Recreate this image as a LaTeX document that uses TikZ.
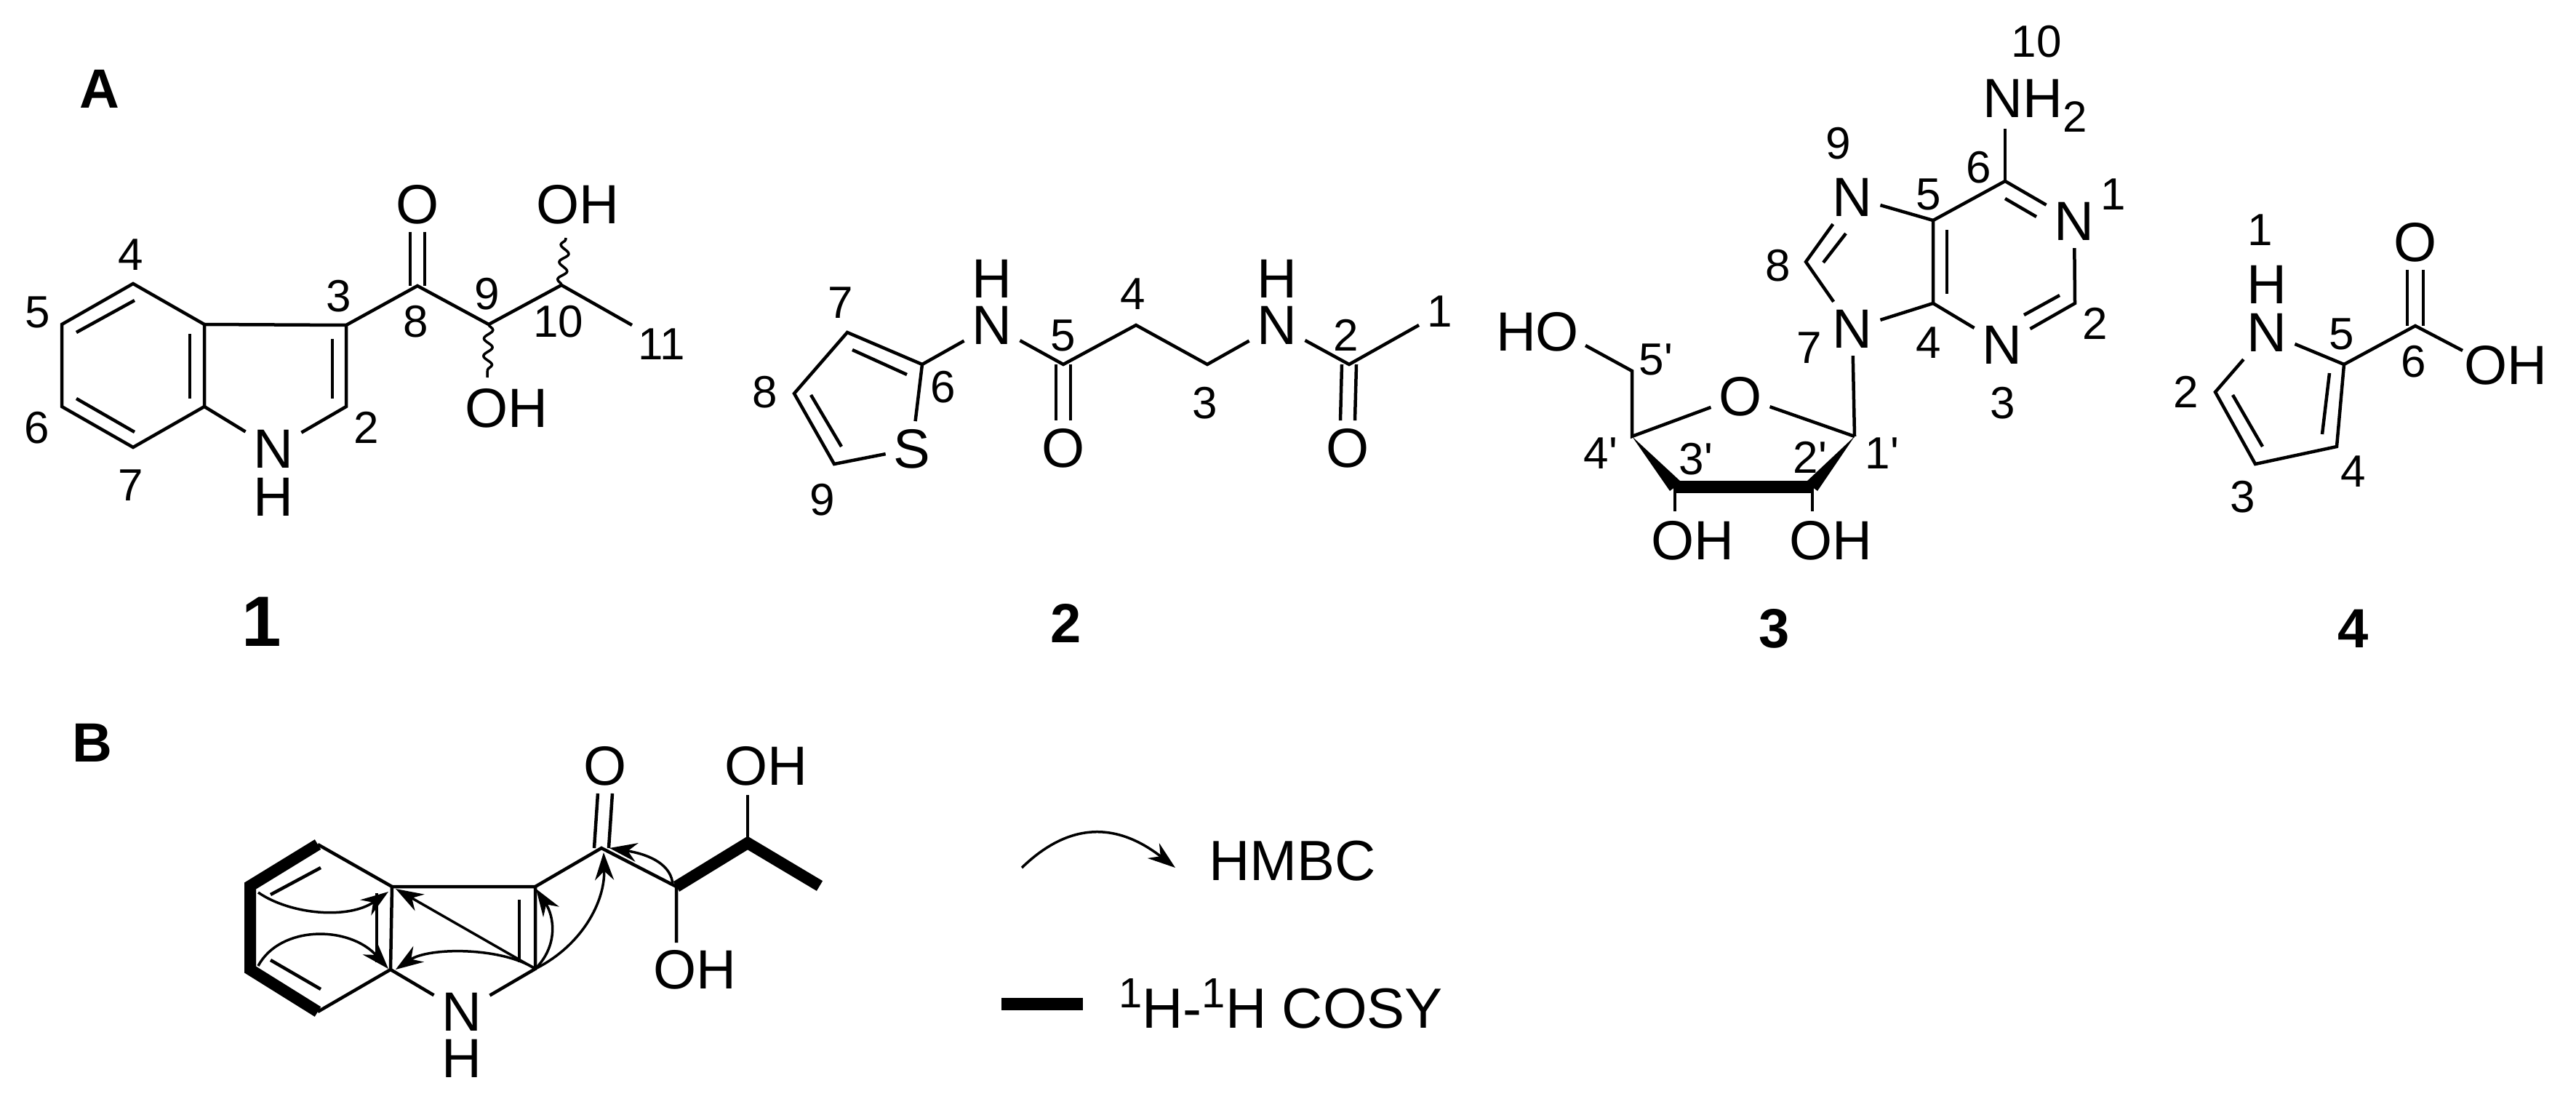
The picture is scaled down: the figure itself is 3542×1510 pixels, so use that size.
\documentclass[tikz,border=0pt]{standalone}
\usepackage{fontspec}
\usetikzlibrary{calc,arrows.meta,decorations.pathmorphing}
\newfontfamily\chemf{Liberation Sans}
\newcommand\atomsize{\chemf\fontsize{76}{76}\selectfont}
\newcommand\numsize{\chemf\fontsize{62}{62}\selectfont}
\newcommand\ibond[5]{\coordinate (#1a) at #2; \coordinate (#1b) at #3; \draw[#4] (#1a) -- (#1b);}
\tikzset{
  atom/.style={inner sep=0pt,outer sep=11pt,font=\atomsize,text=black},
  txt/.style={inner sep=0pt,font=\atomsize,text=black},
  num/.style={inner sep=0pt,font=\numsize,text=black},
  cid/.style={inner sep=0pt,font=\chemf\bfseries\fontsize{76}{76}\selectfont,text=black},
  panel/.style={inner sep=0pt,font=\chemf\bfseries\fontsize{76}{76}\selectfont,text=black},
  bond/.style={draw=black,line width=4.5pt,line join=miter,line cap=butt},
  cosy/.style={draw=black,line width=16pt,line join=miter,line cap=butt},
  heavy/.style={draw=black,line width=17pt,line cap=butt},
  wavy/.style={draw=black,line width=3.5pt,decorate,decoration={snake,amplitude=6pt,segment length=24pt}},
  hmbc/.style={draw=black,line width=3.5pt,-{Stealth[length=38pt,width=26pt]}},
}
\begin{document}
\begin{tikzpicture}[x=1pt,y=-1pt]
\useasboundingbox (0,0) rectangle (3542,1510);
\fill[white] (0,0) rectangle (3542,1510);
% ---------- panel labels
\node[panel] (panelA) at (137,122) {A};
\node[panel] (panelB) at (127,1021) {B};
% ---------- compound 1
\coordinate (aC4) at (183,390); \coordinate (aC5) at (85,446); \coordinate (aC6) at (85,559);
\coordinate (aC7) at (183,615); \coordinate (aC3a) at (281,446); \coordinate (aC7a) at (281,559);
\coordinate (aC3) at (476,447); \coordinate (aC2) at (476,559); \coordinate (aC8) at (574,393);
\coordinate (aC9) at (672,446); \coordinate (aC10) at (772,392); \coordinate (aC11) at (869,447);
\coordinate (aW9) at (670,519); \coordinate (aW10) at (778,327);
\node[atom] (aN) at (376,617) {N};
\node[txt] (aH) at (376,683) {H};
\node[atom] (aO) at (574,281) {O};
\node[txt] (aOH1) at (794,281) {OH};
\node[txt] (aOH2) at (696,561) {OH};
\draw[bond] (aC4) -- (aC5) -- (aC6) -- (aC7) -- (aC7a) -- (aC3a) -- cycle;
\draw[bond] (aC3a) -- (aC3) -- (aC2) -- (aN);
\draw[bond] (aC7a) -- (aN);
\draw[bond] (aC3) -- (aC8) -- (aC9) -- (aC10) -- (aC11);
\draw[bond] ([xshift=-10pt]aO.south) -- ([xshift=-10pt]aC8);
\draw[bond] ([xshift=10pt]aO.south) -- ([xshift=10pt]aC8);
\draw[wavy] (aC9) -- (aW9);
\draw[wavy] (aC10) -- (aW10);
\ibond{ai1}{(185,413)}{(105,457)}{bond}{}
\ibond{ai2}{(105,548)}{(185,594)}{bond}{}
\ibond{ai3}{(261,459)}{(261,548)}{bond}{}
\ibond{ai4}{(457,466)}{(457,548)}{bond}{}
\node[num] (an4) at (180,350) {4};
\node[num] (an5) at (52,429) {5};
\node[num] (an6) at (51,588) {6};
\node[num] (an7) at (180,667) {7};
\node[num] (an3) at (466,407) {3};
\node[num] (an2) at (504,588) {2};
\node[num] (an8) at (572,442) {8};
\node[num] (an9) at (670,404) {9};
\node[num] (an10) at (768,442) {10};
\node[num] (an11) at (910,473) {11};
\node[cid,font=\chemf\bfseries\fontsize{98}{98}\selectfont] (aid) at (360,855) {1};
% ---------- compound 2
\coordinate (bC6) at (1268,501); \coordinate (bC7) at (1165,457); \coordinate (bC8) at (1092,541);
\coordinate (bC9) at (1147,638); \coordinate (bC5) at (1462,501); \coordinate (bC4) at (1562,447);
\coordinate (bC3) at (1660,501); \coordinate (bC2) at (1855,501); \coordinate (bC1) at (1951,447);
\node[atom] (bS) at (1254,617) {S};
\node[atom] (bN1) at (1364,447) {N};
\node[txt] (bH1) at (1364,383) {H};
\node[atom] (bN2) at (1756,447) {N};
\node[txt] (bH2) at (1756,383) {H};
\node[atom] (bO1) at (1462,616) {O};
\node[atom] (bO2) at (1853,616) {O};
\draw[bond] (bS) -- (bC6) -- (bC7) -- (bC8) -- (bC9) -- (bS);
\draw[bond] (bC6) -- (bN1);
\draw[bond] (bN1) -- (bC5) -- (bC4) -- (bC3) -- (bN2);
\draw[bond] (bN2) -- (bC2) -- (bC1);
\draw[bond] ([xshift=-10pt]bC5) -- ([xshift=-10pt]bO1.north);
\draw[bond] ([xshift=10pt]bC5) -- ([xshift=10pt]bO1.north);
\draw[bond] ([xshift=-10pt]bC2) -- ([xshift=-10pt]bO2.north);
\draw[bond] ([xshift=10pt]bC2) -- ([xshift=10pt]bO2.north);
\ibond{bi1}{(1172,481)}{(1247,515)}{bond}{}
\ibond{bi2}{(1115,543)}{(1157,614)}{bond}{}
\node[num] (bn7) at (1156,416) {7};
\node[num] (bn8) at (1052,539) {8};
\node[num] (bn9) at (1131,687) {9};
\node[num] (bn6) at (1297,532) {6};
\node[num] (bn5) at (1462,461) {5};
\node[num] (bn4) at (1558,404) {4};
\node[num] (bn3) at (1657,554) {3};
\node[num] (bn2) at (1851,461) {2};
\node[num] (bn1) at (1980,428) {1};
\node[cid] (bid) at (1466,857) {2};
% ---------- compound 3
\coordinate (cC6) at (2757,249); \coordinate (cC5) at (2658,303); \coordinate (cC4) at (2658,417);
\coordinate (cC2) at (2853,417); \coordinate (cC8) at (2483,360); \coordinate (cC1p) at (2550,600);
\coordinate (cC4p) at (2244,600); \coordinate (cC5p) at (2244,510); \coordinate (cC3p) at (2303,669);
\coordinate (cC2p) at (2492,669); \coordinate (cNHend) at (2757,177); \coordinate (cHOend) at (2180,475);
\coordinate (cOH1end) at (2303,703); \coordinate (cOH2end) at (2492,703);
\node[txt,anchor=base west] (cNH) at (2726,161) {NH\raisebox{-20pt}{\fontsize{60}{60}\selectfont 2}};
\node[atom] (cN1) at (2852,304) {N};
\node[atom] (cN3) at (2753,474) {N};
\node[atom] (cN9) at (2547,271) {N};
\node[atom] (cN7) at (2547,452) {N};
\node[atom] (cO) at (2393,545) {O};
\node[txt] (cHO) at (2114,456) {HO};
\node[txt] (cOH1) at (2327,743) {OH};
\node[txt] (cOH2) at (2517,743) {OH};
\draw[bond] (cC6) -- (cNHend);
\draw[bond] (cC6) -- (cC5) -- (cC4);
\draw[bond] (cC6) -- (cN1) -- (cC2) -- (cN3) -- (cC4);
\draw[bond] (cC5) -- (cN9) -- (cC8) -- (cN7) -- (cC4);
\draw[bond] (cN7) -- (cC1p);
\draw[bond] (cC1p) -- (cO) -- (cC4p) -- (cC5p) -- (cHOend);
\draw[bond] (cC3p) -- (cOH1end);
\draw[bond] (cC2p) -- (cOH2end);
\fill[black] (cC4p) -- ($(cC3p)+(9,-6)$) -- ($(cC3p)+(-7,6)$) -- cycle;
\fill[black] (cC1p) -- ($(cC2p)+(7,6)$) -- ($(cC2p)+(-9,-6)$) -- cycle;
\draw[heavy] (cC3p) -- (cC2p);
\ibond{ci1}{(2757,273)}{(2800,298)}{bond}{}
\ibond{ci2}{(2677,316)}{(2677,404)}{bond}{}
\ibond{ci3}{(2832,406)}{(2783,433)}{bond}{}
\ibond{ci4}{(2538,321)}{(2507,361)}{bond}{}
\node[num] (cn10) at (2800,57) {10};
\node[num] (cn1) at (2906,267) {1};
\node[num] (cn2) at (2881,445) {2};
\node[num] (cn3) at (2754,554) {3};
\node[num] (cn4) at (2652,471) {4};
\node[num] (cn5) at (2652,267) {5};
\node[num] (cn6) at (2721,230) {6};
\node[num] (cn8) at (2445,365) {8};
\node[num] (cn9) at (2528,197) {9};
\node[num] (cn7) at (2488,478) {7};
\node[num] (cn5p) at (2277,494) {5'};
\node[num] (cn4p) at (2201,623) {4'};
\node[num] (cn3p) at (2332,631) {3'};
\node[num] (cn2p) at (2489,629) {2'};
\node[num] (cn1p) at (2588,623) {1'};
\node[cid] (cid3) at (2440,864) {3};
% ---------- compound 4
\coordinate (dC5) at (3223,501); \coordinate (dC2) at (3046,539); \coordinate (dC3) at (3101,638);
\coordinate (dC4) at (3213,614); \coordinate (dC6) at (3321,448); \coordinate (dOHend) at (3386,482);
\node[atom] (dN) at (3117,457) {N};
\node[txt] (dH) at (3117,391) {H};
\node[atom] (dO) at (3321,333) {O};
\node[txt] (dOH) at (3445,502) {OH};
\draw[bond] (dN) -- (dC5) -- (dC4) -- (dC3) -- (dC2) -- (dN);
\draw[bond] (dC5) -- (dC6) -- (dOHend);
\draw[bond] ([xshift=-11pt]dO.south) -- ([xshift=-11pt]dC6);
\draw[bond] ([xshift=11pt]dO.south) -- ([xshift=11pt]dC6);
\ibond{di1}{(3070,543)}{(3111,614)}{bond}{}
\ibond{di2}{(3203,513)}{(3193,597)}{bond}{}
\node[num] (dn1) at (3108,316) {1};
\node[num] (dn2) at (3006,539) {2};
\node[num] (dn3) at (3084,683) {3};
\node[num] (dn4) at (3236,648) {4};
\node[num] (dn5) at (3220,459) {5};
\node[num] (dn6) at (3319,497) {6};
\node[cid] (did) at (3236,864) {4};
% ---------- panel B structure
\coordinate (eC4) at (437,1161); \coordinate (eC5) at (344,1218); \coordinate (eC6) at (344,1333);
\coordinate (eC7) at (437,1391); \coordinate (eC3a) at (539,1219); \coordinate (eC7a) at (537,1333);
\coordinate (eC3) at (736,1219); \coordinate (eC2) at (736,1332); \coordinate (eC8) at (827,1166);
\coordinate (eC9) at (930,1219); \coordinate (eC10) at (1028,1159); \coordinate (eC11) at (1127,1218);
\coordinate (eOH1end) at (1028,1093); \coordinate (eOH2end) at (930,1296);
\node[atom] (eN) at (635,1391) {N};
\node[txt] (eH) at (635,1455) {H};
\node[atom] (eO) at (832,1053) {O};
\node[txt] (eOH1) at (1053,1053) {OH};
\node[txt] (eOH2) at (955,1333) {OH};
\draw[bond] (eC4) -- (eC3a) -- (eC7a) -- (eC7);
\draw[bond] (eC3a) -- (eC3) -- (eC2) -- (eN) -- (eC7a);
\draw[bond] (eC3) -- (eC8) -- (eC9) -- (eOH2end);
\draw[bond] (eC10) -- (eOH1end);
\draw[bond] ([xshift=-10pt]eO.south) -- ([xshift=-10pt,yshift=0pt]eC8);
\draw[bond] ([xshift=10pt]eO.south) -- ([xshift=10pt,yshift=0pt]eC8);
\draw[cosy] (eC4) -- (eC5) -- (eC6) -- (eC7);
\draw[cosy] (eC9) -- (eC10) -- (eC11);
\ibond{ei1}{(441,1193)}{(372,1230)}{bond}{}
\ibond{ei2}{(372,1320)}{(441,1360)}{bond}{}
\ibond{ei3}{(518,1228)}{(518,1323)}{bond}{}
\ibond{ei4}{(714,1237)}{(714,1323)}{bond}{}
% HMBC arrows
\coordinate (ha1) at (355,1227); \coordinate (ha2) at (355,1328);
\coordinate (hc) at (544,1222); \coordinate (hd) at (544,1333); \coordinate (he) at (737,1222);
\coordinate (hf) at (830,1172); \coordinate (hg) at (925,1217); \coordinate (hg2) at (838,1166);
\draw[hmbc] (ha1) .. controls (400,1258) and (480,1264) .. (534,1226);
\draw[hmbc] (ha2) .. controls (385,1272) and (480,1272) .. (534,1332);
\draw[hmbc] (eC2) -- (hc);
\draw[hmbc] (eC2) .. controls (690,1302) and (590,1302) .. (hd);
\draw[hmbc] (eC2) .. controls (768,1300) and (762,1260) .. (he);
\draw[hmbc] (eC2) .. controls (800,1300) and (832,1240) .. (hf);
\draw[hmbc] (hg) .. controls (924,1190) and (895,1175) .. (hg2);
% ---------- legend
\coordinate (lgA) at (1405,1193); \coordinate (lgB) at (1616,1193);
\coordinate (lgC) at (1377,1380); \coordinate (lgD) at (1489,1380);
\draw[hmbc] (lgA) .. controls (1470,1130) and (1535,1130) .. (lgB);
\draw[heavy] (lgC) -- (lgD);
\node[txt,anchor=base west,font=\chemf\fontsize{78}{78}\selectfont] (lgH) at (1662,1210) {HMBC};
\node[txt,anchor=base west,font=\chemf\fontsize{78}{78}\selectfont] (lgN) at (1538,1413) {\raisebox{28pt}{\fontsize{58}{58}\selectfont 1}H-\raisebox{28pt}{\fontsize{58}{58}\selectfont 1}H COSY};
\end{tikzpicture}
\end{document}
